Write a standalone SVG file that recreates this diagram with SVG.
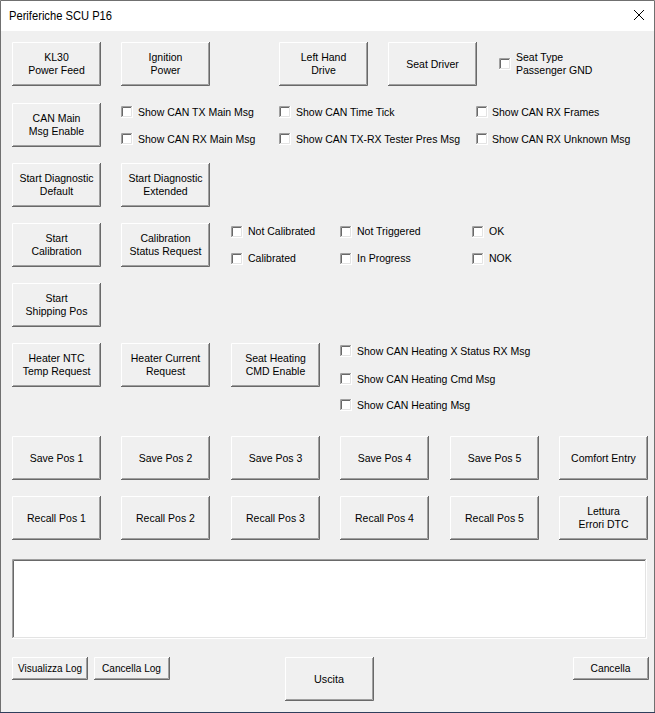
<svg xmlns="http://www.w3.org/2000/svg" xmlns:xlink="http://www.w3.org/1999/xlink" width="655" height="713" viewBox="0 0 655 713">
<style>
.t{font-family:"Liberation Sans",Arial,sans-serif;font-size:10.5px;fill:#000;text-anchor:middle}
.l{font-family:"Liberation Sans",Arial,sans-serif;font-size:10.5px;fill:#000}
.b{font-family:"Liberation Sans",Arial,sans-serif;font-size:11.5px;fill:#000;text-anchor:middle}
.hl{stroke:#fff;fill:none}
.sd{stroke:#696969;fill:none}
.sm{stroke:#a0a0a0;fill:none}
.lt{stroke:#e3e3e3;fill:none}
</style>
<defs>
<g id="btn">
<rect width="89" height="44" fill="#f0f0f0"/>
<path class="hl" d="M0.5 43 V0.5 H88"/>
<path class="sd" d="M0 43.5 H88.5 V0"/>
<path class="sm" d="M1 42.5 H87.5 V1"/>
</g>
<g id="sbtn">
<rect width="76" height="23" fill="#f0f0f0"/>
<path class="hl" d="M0.5 22 V0.5 H75"/>
<path class="sd" d="M0 22.5 H75.5 V0"/>
<path class="sm" d="M1 21.5 H74.5 V1"/>
</g>
<g id="cb">
<rect width="12" height="12" fill="#fff"/>
<path class="sm" d="M0.5 12 V0.5 H12"/>
<path class="sd" d="M1.5 11 V1.5 H11"/>
<path class="lt" d="M1 10.5 H10.5 V1"/>
<path class="hl" d="M0 11.5 H11.5 V0"/>
</g>
</defs>

<g id="window">
<rect x="0" y="0" width="655" height="713" fill="#f0f0f0"/>
<rect x="0" y="0" width="655" height="31" fill="#fff"/>
<path d="M0.5 713 V0.5 H654.5 V713" stroke="#707070" fill="none"/>
<path d="M0 712.5 H655" stroke="#2f3e5c"/>
<text x="9" y="20" font-family="'Liberation Sans',Arial,sans-serif" font-size="12" textLength="103" lengthAdjust="spacingAndGlyphs" fill="#000">Periferiche SCU P16</text>
<path d="M634 10 L644 20 M644 10 L634 20" stroke="#000" stroke-width="1"/>
</g>

<g id="connectors"/>

<g id="btn-kl30"><use xlink:href="#btn" x="12" y="42"/><text class="t" x="56.5" y="61">KL30</text><text class="t" x="56.5" y="74">Power Feed</text></g>
<g id="btn-ignition"><use xlink:href="#btn" x="121" y="42"/><text class="t" x="165.5" y="61">Ignition</text><text class="t" x="165.5" y="74">Power</text></g>
<g id="btn-lhd"><use xlink:href="#btn" x="279" y="42"/><text class="t" x="323.5" y="61">Left Hand</text><text class="t" x="323.5" y="74">Drive</text></g>
<g id="btn-seatdriver"><use xlink:href="#btn" x="388" y="42"/><text class="t" x="432.5" y="68">Seat Driver</text></g>
<g id="cb-seattype"><use xlink:href="#cb" x="499" y="58"/><text class="l" x="516" y="61">Seat Type</text><text class="l" x="516" y="74">Passenger GND</text></g>

<g id="btn-canmain"><use xlink:href="#btn" x="12" y="103"/><text class="t" x="56.5" y="122">CAN Main</text><text class="t" x="56.5" y="135">Msg Enable</text></g>
<g id="cb-txmain"><use xlink:href="#cb" x="121" y="106"/><text class="l" x="138" y="116">Show CAN TX Main Msg</text></g>
<g id="cb-timetick"><use xlink:href="#cb" x="279" y="106"/><text class="l" x="296" y="116">Show CAN Time Tick</text></g>
<g id="cb-rxframes"><use xlink:href="#cb" x="476" y="106"/><text class="l" x="492" y="116">Show CAN RX Frames</text></g>
<g id="cb-rxmain"><use xlink:href="#cb" x="121" y="133"/><text class="l" x="138" y="143">Show CAN RX Main Msg</text></g>
<g id="cb-tester"><use xlink:href="#cb" x="279" y="133"/><text class="l" x="296" y="143">Show CAN TX-RX Tester Pres Msg</text></g>
<g id="cb-unknown"><use xlink:href="#cb" x="476" y="133"/><text class="l" x="492" y="143">Show CAN RX Unknown Msg</text></g>

<g id="btn-diagdef"><use xlink:href="#btn" x="12" y="163"/><text class="t" x="56.5" y="182">Start Diagnostic</text><text class="t" x="56.5" y="195">Default</text></g>
<g id="btn-diagext"><use xlink:href="#btn" x="121" y="163"/><text class="t" x="165.5" y="182">Start Diagnostic</text><text class="t" x="165.5" y="195">Extended</text></g>

<g id="btn-startcal"><use xlink:href="#btn" x="12" y="223"/><text class="t" x="56.5" y="242">Start</text><text class="t" x="56.5" y="255">Calibration</text></g>
<g id="btn-calstatus"><use xlink:href="#btn" x="121" y="223"/><text class="t" x="165.5" y="242">Calibration</text><text class="t" x="165.5" y="255">Status Request</text></g>
<g id="cb-notcal"><use xlink:href="#cb" x="231" y="226"/><text class="l" x="248" y="235">Not Calibrated</text></g>
<g id="cb-cal"><use xlink:href="#cb" x="231" y="253"/><text class="l" x="248" y="262">Calibrated</text></g>
<g id="cb-nottrig"><use xlink:href="#cb" x="340" y="226"/><text class="l" x="357" y="235">Not Triggered</text></g>
<g id="cb-inprog"><use xlink:href="#cb" x="340" y="253"/><text class="l" x="357" y="262">In Progress</text></g>
<g id="cb-ok"><use xlink:href="#cb" x="472" y="226"/><text class="l" x="489" y="235">OK</text></g>
<g id="cb-nok"><use xlink:href="#cb" x="472" y="253"/><text class="l" x="489" y="262">NOK</text></g>

<g id="btn-shipping"><use xlink:href="#btn" x="12" y="283"/><text class="t" x="56.5" y="302">Start</text><text class="t" x="56.5" y="315">Shipping Pos</text></g>

<g id="btn-heaterntc"><use xlink:href="#btn" x="12" y="343"/><text class="t" x="56.5" y="362">Heater NTC</text><text class="t" x="56.5" y="375">Temp Request</text></g>
<g id="btn-heatercur"><use xlink:href="#btn" x="121" y="343"/><text class="t" x="165.5" y="362">Heater Current</text><text class="t" x="165.5" y="375">Request</text></g>
<g id="btn-seatheat"><use xlink:href="#btn" x="231" y="343"/><text class="t" x="275.5" y="362">Seat Heating</text><text class="t" x="275.5" y="375">CMD Enable</text></g>
<g id="cb-heatstatus"><use xlink:href="#cb" x="340" y="345"/><text class="l" x="357" y="355">Show CAN Heating X Status RX Msg</text></g>
<g id="cb-heatcmd"><use xlink:href="#cb" x="340" y="373"/><text class="l" x="357" y="383">Show CAN Heating Cmd Msg</text></g>
<g id="cb-heatmsg"><use xlink:href="#cb" x="340" y="399"/><text class="l" x="357" y="409">Show CAN Heating Msg</text></g>

<g id="btn-save1"><use xlink:href="#btn" x="12" y="436"/><text class="t" x="56.5" y="462">Save Pos 1</text></g>
<g id="btn-save2"><use xlink:href="#btn" x="121" y="436"/><text class="t" x="165.5" y="462">Save Pos 2</text></g>
<g id="btn-save3"><use xlink:href="#btn" x="231" y="436"/><text class="t" x="275.5" y="462">Save Pos 3</text></g>
<g id="btn-save4"><use xlink:href="#btn" x="340" y="436"/><text class="t" x="384.5" y="462">Save Pos 4</text></g>
<g id="btn-save5"><use xlink:href="#btn" x="450" y="436"/><text class="t" x="494.5" y="462">Save Pos 5</text></g>
<g id="btn-comfort"><use xlink:href="#btn" x="559" y="436"/><text class="t" x="603.5" y="462">Comfort Entry</text></g>

<g id="btn-recall1"><use xlink:href="#btn" x="12" y="496"/><text class="t" x="56.5" y="522">Recall Pos 1</text></g>
<g id="btn-recall2"><use xlink:href="#btn" x="121" y="496"/><text class="t" x="165.5" y="522">Recall Pos 2</text></g>
<g id="btn-recall3"><use xlink:href="#btn" x="231" y="496"/><text class="t" x="275.5" y="522">Recall Pos 3</text></g>
<g id="btn-recall4"><use xlink:href="#btn" x="340" y="496"/><text class="t" x="384.5" y="522">Recall Pos 4</text></g>
<g id="btn-recall5"><use xlink:href="#btn" x="450" y="496"/><text class="t" x="494.5" y="522">Recall Pos 5</text></g>
<g id="btn-dtc"><use xlink:href="#btn" x="559" y="496"/><text class="t" x="603.5" y="515">Lettura</text><text class="t" x="603.5" y="528">Errori DTC</text></g>

<g id="logbox">
<rect x="12" y="559" width="635" height="80" fill="#fff"/>
<path class="sm" d="M12.5 639 V559.5 H647"/>
<path class="sd" d="M13.5 638 V560.5 H646"/>
<path class="lt" d="M13 637.5 H645.5 V560"/>
<path class="hl" d="M12 638.5 H646.5 V559"/>
</g>

<g id="btn-visualizza"><use xlink:href="#sbtn" x="12" y="657"/><text class="b" x="50" y="672" textLength="64" lengthAdjust="spacingAndGlyphs">Visualizza Log</text></g>
<g id="btn-cancellalog"><use xlink:href="#sbtn" x="94" y="657"/><text class="b" x="131.5" y="672" textLength="59" lengthAdjust="spacingAndGlyphs">Cancella Log</text></g>
<g id="btn-uscita"><use xlink:href="#btn" x="285" y="657"/><text class="b" x="329" y="683" textLength="30" lengthAdjust="spacingAndGlyphs">Uscita</text></g>
<g id="btn-cancella"><use xlink:href="#sbtn" x="573" y="657"/><text class="b" x="610.5" y="672" textLength="40" lengthAdjust="spacingAndGlyphs">Cancella</text></g>
</svg>
